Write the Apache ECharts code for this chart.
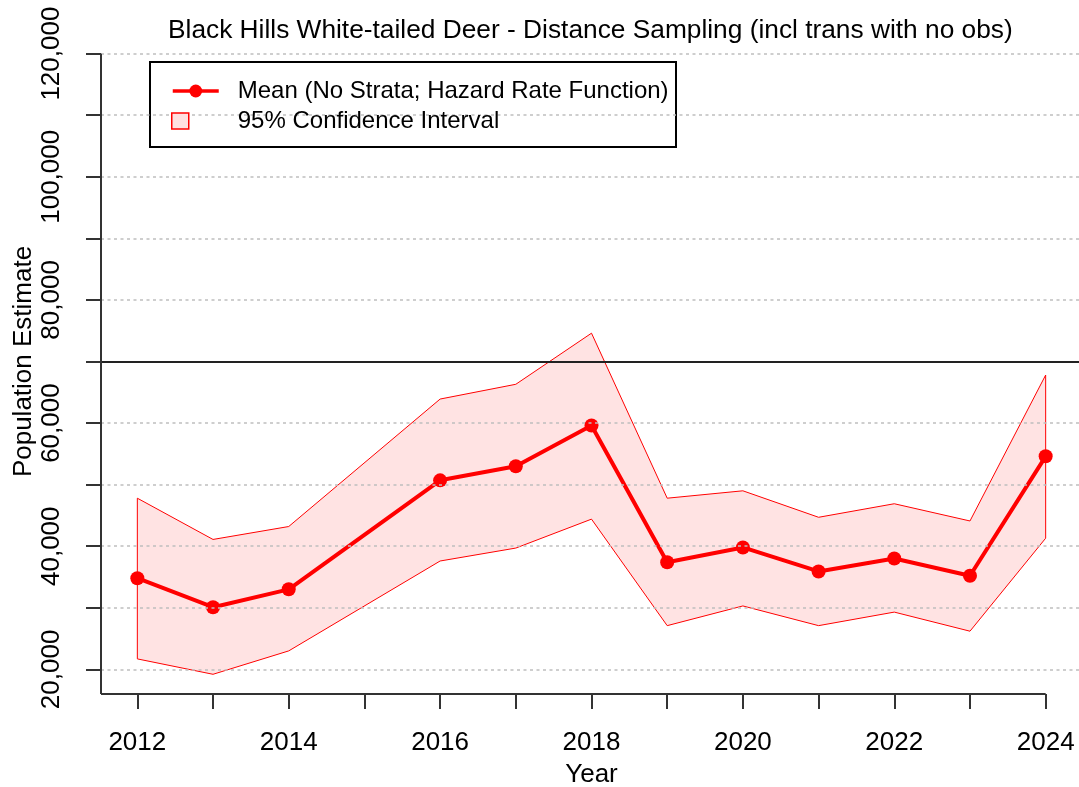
<!DOCTYPE html>
<html>
<head>
<meta charset="utf-8">
<script src="https://cdn.jsdelivr.net/npm/echarts@6/dist/echarts.min.js"></script>
<style>
html, body { margin: 0; background: #fff; }
#graph { width: 1079px; height: 787px; }
</style>
</head>
<body>
<div id="graph"></div>
<script>
"use strict"

// survey years (no survey in 2015)
const years = [2012, 2013, 2014, 2016, 2017, 2018, 2019, 2020, 2021, 2022, 2023, 2024];
const mean  = [34800, 30100, 33000, 50700, 53000, 59600, 37400, 39800, 35900, 38000, 35200, 54600];
const upper = [47800, 41100, 43200, 63900, 66300, 74600, 47800, 49000, 44700, 46900, 44100, 67800];
const lower = [21700, 19200, 23000, 37600, 39700, 44400, 27100, 30300, 27100, 29300, 26200, 41300];

const yTicks = [20000, 30000, 40000, 50000, 60000, 70000, 80000, 90000, 100000, 110000, 120000];
const yLabelTicks = [20000, 40000, 60000, 80000, 100000, 120000];
const xTicks = [2012, 2013, 2014, 2015, 2016, 2017, 2018, 2019, 2020, 2021, 2022, 2023, 2024];
const xLabelTicks = [2012, 2014, 2016, 2018, 2020, 2022, 2024];
const refLine = 70000;

const xMin = 2011.52, xMax = 2024.48, yMin = 16000, yMax = 124000;
const meanName = "Mean (No Strata; Hazard Rate Function)";
const ciName = "95% Confidence Interval";
const font = "'Liberation Sans', Arial, sans-serif";
const axisCol = "#333";

const gridLines = yTicks.filter(v => v !== refLine).map(v => ({
    yAxis: v,
    lineStyle: { color: "#BEBEBE", width: 1.5, type: [3, 3.5] }
}));

const option = {
    animation: false,
    textStyle: { fontFamily: font },
    title: {
        text: "Black Hills White-tailed Deer - Distance Sampling (incl trans with no obs)",
        left: 168,
        top: 18,
        padding: 0,
        textStyle: { fontSize: 26.3, fontWeight: "normal", color: "#000", fontFamily: font }
    },
    grid: { left: 101, top: 29, width: 981, height: 665, outerBoundsMode: "none", containLabel: false },
    xAxis: {
        type: "value",
        min: xMin, max: xMax,
        name: "Year",
        nameLocation: "middle",
        nameGap: 68,
        nameMoveOverlap: false,
        nameTextStyle: { fontSize: 26, color: "#000", fontFamily: font },
        axisLine: { show: false },
        splitLine: { show: false },
        axisTick: { show: true, length: 15, customValues: xTicks, lineStyle: { color: axisCol, width: 2 } },
        axisLabel: {
            customValues: xLabelTicks, margin: 36,
            fontSize: 26, color: "#000", fontFamily: font,
            formatter: v => String(v)
        }
    },
    yAxis: {
        type: "value",
        min: yMin, max: yMax,
        name: "Population Estimate",
        nameLocation: "middle",
        nameGap: 64,
        nameMoveOverlap: false,
        nameTextStyle: { fontSize: 26, color: "#000", fontFamily: font },
        axisLine: { show: false },
        splitLine: { show: false },
        axisTick: { show: true, length: 15, customValues: yTicks, lineStyle: { color: axisCol, width: 2 } },
        axisLabel: {
            customValues: yLabelTicks, rotate: 90, margin: 36,
            fontSize: 26, color: "#000", fontFamily: font,
            formatter: v => v.toLocaleString("en-US")
        }
    },
    legend: [{
        data: [meanName],
        left: 171, top: 79, padding: 0, z: 10,
        itemWidth: 46, itemHeight: 16,
        lineStyle: { width: 3.5 },
        textStyle: { fontSize: 24, color: "#000", fontFamily: font, padding: [0, 0, 0, 14] }
    }, {
        data: [{ name: ciName, icon: "rect", itemStyle: { color: "#FFE0E0", borderColor: "#FF0000", borderWidth: 1.5 } }],
        left: 171, top: 109, padding: 0, z: 10,
        itemWidth: 17, itemHeight: 16,
        textStyle: { fontSize: 24, color: "#000", fontFamily: font, padding: [0, 0, 0, 44] }
    }],
    graphic: [{
        type: "rect",
        shape: { x: 150, y: 62, width: 526, height: 85 },
        style: { fill: "#fff", stroke: "#000", lineWidth: 2 },
        z: 5
    }],
    series: [{
        // frame: grid lines, reference line, L-shaped axes
        type: "line",
        name: "frame",
        data: [],
        clip: false,
        silent: true,
        z: 1,
        markLine: {
            silent: true,
            symbol: "none",
            label: { show: false },
            animation: false,
            data: gridLines.concat([
                { yAxis: refLine, lineStyle: { color: "#222", width: 2, type: "solid" } },
                [{ coord: [xMin, yMin], lineStyle: { color: axisCol, width: 2, type: "solid" } }, { coord: [2024, yMin] }],
                [{ coord: [xMin, yMin], lineStyle: { color: axisCol, width: 2, type: "solid" } }, { coord: [xMin, 120000] }]
            ])
        }
    }, {
        type: "custom",
        name: ciName,
        z: 2,
        data: years.map((y, i) => [y, lower[i], upper[i]]),
        encode: { x: 0, y: [1, 2] },
        itemStyle: { color: "#FFE0E0", borderColor: "#FF0000" },
        renderItem: (params, api) =>
        {
            if (params.dataIndex !== 0) return;
            const pts = years.map((y, i) => api.coord([y, upper[i]]))
                .concat(years.map((y, i) => api.coord([y, lower[i]])).reverse());
            return {
                type: "polygon",
                shape: { points: pts },
                style: { fill: "rgba(255,0,0,0.11)", stroke: "#FF0000", lineWidth: 1 }
            };
        }
    }, {
        type: "line",
        name: meanName,
        z: 3,
        data: years.map((y, i) => [y, mean[i]]),
        symbol: "circle",
        symbolSize: 14,
        lineStyle: { color: "#FF0000", width: 4 },
        itemStyle: { color: "#FF0000" }
    }]
};

const myChart = echarts.init(document.getElementById("graph"), null, { renderer: "canvas" });
myChart.setOption(option);
</script>
</body>
</html>
